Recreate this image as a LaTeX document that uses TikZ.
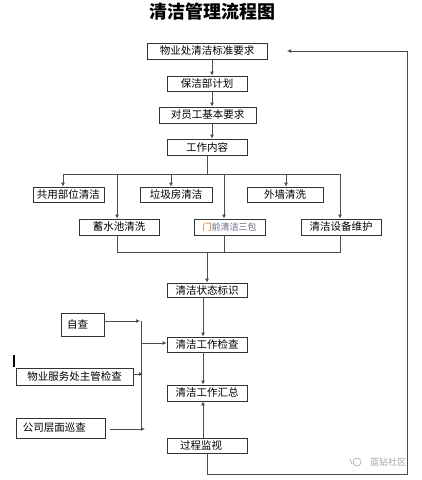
\documentclass[tikz,border=0pt]{standalone}
\usepackage{fontspec}
\newfontfamily\cjk{Noto Sans CJK SC}
\usetikzlibrary{arrows.meta}
\begin{document}
\begin{tikzpicture}[x=1pt,y=-1pt,
 box/.style={draw=black!80,line width=0.8pt,inner sep=0pt,font=\cjk\fontsize{10.5}{12}\selectfont},
 lbox/.style={box,align=left},
 ln/.style={draw=black!70,line width=0.8pt},
 arr/.style={ln,-{Latex[length=4pt,width=4pt]}}]
\useasboundingbox[fill=white] (0,0) rectangle (422,480);
\node[font=\cjk\bfseries\fontsize{18}{20}\selectfont] (title) at (212,12) {清洁管理流程图};
% main column
\node[box,minimum width=120,minimum height=16] (b1) at (207,51) {物业处清洁标准要求};
\node[box,minimum width=80,minimum height=15] (b2) at (207,83.5) {保洁部计划};
\node[box,minimum width=97,minimum height=16] (b3) at (207.5,115) {对员工基本要求};
\node[box,minimum width=80,minimum height=16] (b4) at (207,147) {工作内容};
% work items
\node[box,minimum width=71,minimum height=15] (c1) at (68.5,194.5) {共用部位清洁};
\node[box,minimum width=72,minimum height=15] (c2) at (176,194.5) {垃圾房清洁};
\node[box,minimum width=76,minimum height=15] (c3) at (285,194.5) {外墙清洗};
\node[box,minimum width=80,minimum height=16] (d1) at (119,227) {蓄水池清洗};
\node[box,minimum width=71,minimum height=16,text=blue!20!black!60,font=\cjk\fontsize{9}{10}\selectfont] (d2) at (229.5,227) {\textcolor{orange!80!black}{门}前清洁三包};
\node[box,minimum width=80,minimum height=16] (d3) at (341,227) {清洁设备维护};
% lower column
\node[box,minimum width=80,minimum height=14] (e1) at (207,290) {清洁状态标识};
\node[box,minimum width=80,minimum height=15] (e2) at (207,344.5) {清洁工作检查};
\node[box,minimum width=80,minimum height=16] (e3) at (207,393) {清洁工作汇总};
\node[lbox,minimum width=80,minimum height=15,inner xsep=13,text width=54] (e4) at (207,445.5) {过程监视};
% checks
\node[lbox,minimum width=43,minimum height=23,inner xsep=6,text width=31] (zc) at (82.5,324.5) {自查\\[2pt]};
\node[box,minimum width=117,minimum height=17] (wy) at (74.5,376.5) {物业服务处主管检查};
\node[lbox,minimum width=89,minimum height=20,inner xsep=7,text width=75] (gs) at (60.5,428) {公司层面巡查};
% connectors, main column
\coordinate (ax) at (212,0);
\draw[arr] (b1.south -| ax) -- (b2.north -| ax);
\draw[arr] (b2.south -| ax) -- (b3.north -| ax);
\draw[arr] (b3.south -| ax) -- (b4.north -| ax);
% distribution bus
\coordinate (bs) at (207,174);
\coordinate (t1) at (63,174);
\coordinate (t2) at (117,174);
\coordinate (t3) at (171,174);
\coordinate (t4) at (224,174);
\coordinate (t5) at (286,174);
\coordinate (t6) at (340,174);
\draw[ln] (b4.south -| bs) -- (bs);
\draw[ln] (t1) -- (t6);
\draw[arr] (t1) -- (t1 |- c1.north);
\draw[arr] (t3) -- (t3 |- c2.north);
\draw[arr] (t5) -- (t5 |- c3.north);
\draw[arr] (t2) -- (t2 |- d1.north);
\draw[arr] (t4) -- (t4 |- d2.north);
\draw[arr] (t6) -- (t6 |- d3.north);
% merge bus
\coordinate (m1) at (117,252);
\coordinate (m2) at (224,252);
\coordinate (m3) at (340,252);
\coordinate (ms) at (207,252);
\draw[ln] (m1 |- d1.south) -- (m1) -- (m3) -- (m3 |- d3.south);
\draw[ln] (m2 |- d2.south) -- (m2);
\draw[arr] (ms) -- (ms |- e1.north);
% lower column
\coordinate (bx) at (203,0);
\draw[arr] (e1.south -| bx) -- (e2.north -| bx);
\draw[arr] (e2.south -| bx) -- (e3.north -| bx);
\draw[arr] (e4.north -| bx) -- (e3.south -| bx);
% checks
\coordinate (v1) at (140,321);
\coordinate (v2) at (141,343);
\coordinate (v3) at (143,374);
\coordinate (v4) at (145,429);
\coordinate (g0) at (110,429);
\draw[arr] (zc.east |- v1) -- (v1);
\draw[ln] (141,321) -- (141,429);
\draw[arr] (v2) -- (v2 -| e2.west);
\draw[arr] (wy.east |- v3) -- (v3);
\draw[arr] (g0) -- (v4);
% feedback loop
\coordinate (f1) at (207,474);
\coordinate (f2) at (407,474);
\coordinate (f3) at (407,51);
\coordinate (f4) at (287,51);
\draw[ln] (e4.south -| f1) -- (f1) -- (f2) -- (f3);
\draw[arr] (f3) -- (f4);
% mark
\draw[line width=1.6pt] (14,355) -- (14,367);
% watermark
\node[text=black!35,font=\cjk\fontsize{9}{10}\selectfont] (wm) at (388,462) {蓝钻社区};
\draw[black!35,line width=0.6pt] (357,462) circle (4);
\draw[black!35,line width=0.6pt] (350,459) -- (352,464);
\end{tikzpicture}
\end{document}
